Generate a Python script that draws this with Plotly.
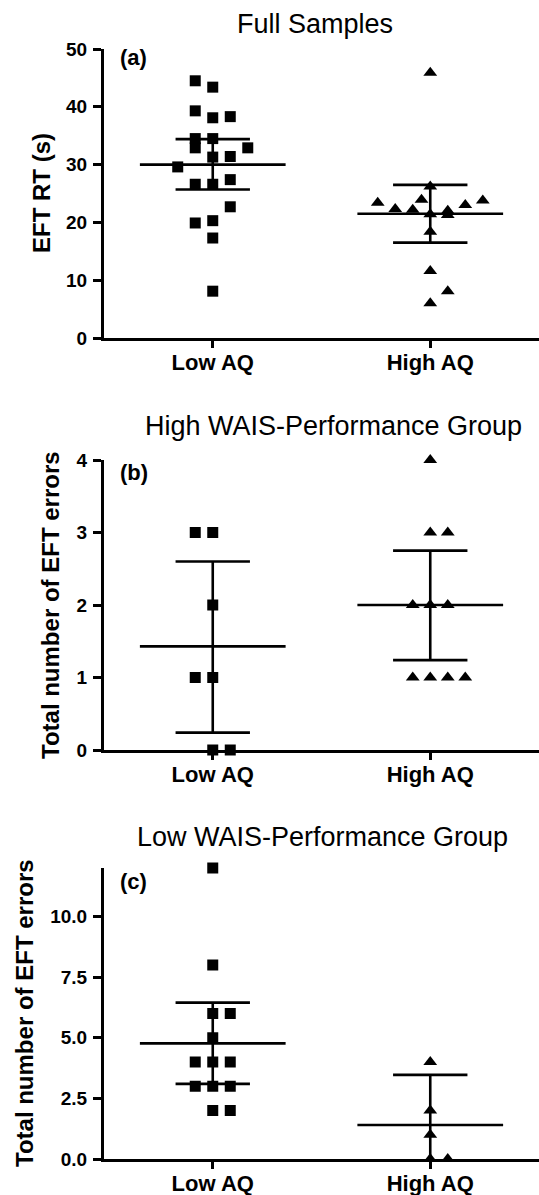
import plotly.graph_objects as go

categories = ["Low AQ", "High AQ"]

# ---------- Panel (a): Full Samples, EFT RT (s) ----------
a_low_values = [44.5, 43.4, 39.3, 38.1, 38.3, 34.5, 34.5, 32.9, 32.9, 31.3,
                31.4, 29.6, 26.6, 26.6, 27.4, 22.7, 19.9, 20.3, 17.3, 8.1]
a_low_jitter = [-1, 0, -1, 0, 1, -1, 0, -1, 2, 0, 1, -2, -1, 0, 1, 1, -1, 0, 0, 0]
a_high_values = [45.9, 23.4, 22.3, 22.2, 23.9, 26.2, 21.4, 22.0, 21.3, 23.0,
                 23.8, 18.4, 11.6, 8.1, 6.0]
a_high_jitter = [0, -3, -2, -1, -0.5, 0, 0, 1, 1, 2, 3, 0, 0, 1, 0]
a_mean = [30.0, 21.5]
a_lower = [25.7, 16.5]
a_upper = [34.4, 26.5]

# ---------- Panel (b): High WAIS-Performance Group ----------
b_low_values = [3, 3, 2, 1, 1, 0, 0]
b_low_jitter = [-1, 0, 0, -1, 0, 0, 1]
b_high_values = [4, 3, 3, 2, 2, 2, 1, 1, 1, 1]
b_high_jitter = [0, 0, 1, -1, 0, 1, -1, 0, 1, 2]
b_mean = [1.43, 2.0]
b_lower = [0.24, 1.24]
b_upper = [2.60, 2.75]

# ---------- Panel (c): Low WAIS-Performance Group ----------
c_low_values = [12, 8, 6, 6, 5, 4, 4, 4, 3, 3, 3, 2, 2]
c_low_jitter = [0, 0, 0, 1, 0, -1, 0, 1, -1, 0, 1, 0, 1]
c_high_values = [4, 2, 1, 0, 0]
c_high_jitter = [0, 0, 0, 0, 1]
c_mean = [4.77, 1.40]
c_lower = [3.10, -0.67]
c_upper = [6.45, 3.47]

panel_titles = ["Full Samples", "High WAIS-Performance Group", "Low WAIS-Performance Group"]
panel_labels = ["(a)", "(b)", "(c)"]
y_titles = ["EFT RT (s)", "Total number of EFT errors", "Total number of EFT errors"]

W, H = 539, 1195
FONT = "Arial, Liberation Sans, sans-serif"
JSTEP = 0.0805      # jitter column width (category units)
MEAN_HW = 0.335     # half-width of mean line
CAP_HW = 0.171      # half-width of error caps

panels = [
    dict(low=(a_low_values, a_low_jitter), high=(a_high_values, a_high_jitter),
         mean=a_mean, lo=a_lower, up=a_upper, yrange=[0, 50], dtick=10, fmt="d",
         px=(49, 338)),
    dict(low=(b_low_values, b_low_jitter), high=(b_high_values, b_high_jitter),
         mean=b_mean, lo=b_lower, up=b_upper, yrange=[0, 4], dtick=1, fmt="d",
         px=(460, 750)),
    dict(low=(c_low_values, c_low_jitter), high=(c_high_values, c_high_jitter),
         mean=c_mean, lo=c_lower, up=c_upper, yrange=[0, 12], dtick=2.5, fmt=".1f",
         px=(868, 1159)),
]

fig = go.Figure()
layout = dict(width=W, height=H, margin=dict(l=0, r=0, t=0, b=0, pad=0, autoexpand=False),
              paper_bgcolor="white", plot_bgcolor="white", showlegend=False)
annotations = []

x_left_px = 104
for i, p in enumerate(panels):
    n = i + 1
    xa = "x" if n == 1 else f"x{n}"
    ya = "y" if n == 1 else f"y{n}"
    # points
    for ci, (vals, jit), sym in [(0, p["low"], "square"), (1, p["high"], "triangle-up")]:
        fig.add_trace(go.Scatter(
            x=[ci + j * JSTEP for j in jit], y=vals, mode="markers",
            marker=dict(symbol=sym, size=11 if sym == "square" else 12, color="black",
                        line=dict(width=0)),
            xaxis=xa, yaxis=ya, cliponaxis=False, hoverinfo="skip"))
    # mean and error bars
    lx, ly = [], []
    for ci in range(2):
        m, lo, up = p["mean"][ci], p["lo"][ci], p["up"][ci]
        lx += [ci - MEAN_HW, ci + MEAN_HW, None]
        ly += [m, m, None]
        lx += [ci - CAP_HW, ci + CAP_HW, None]
        ly += [up, up, None]
        if lo >= p["yrange"][0]:
            lx += [ci - CAP_HW, ci + CAP_HW, None]
            ly += [lo, lo, None]
        lx += [ci, ci, None]
        ly += [max(lo, p["yrange"][0]), up, None]
    fig.add_trace(go.Scatter(x=lx, y=ly, mode="lines",
                             line=dict(color="black", width=2.6),
                             xaxis=xa, yaxis=ya, cliponaxis=True, hoverinfo="skip"))

    top_px, bot_px = p["px"]
    ydom = [1 - bot_px / H, 1 - top_px / H]
    xkey = "xaxis" if n == 1 else f"xaxis{n}"
    ykey = "yaxis" if n == 1 else f"yaxis{n}"
    layout[xkey] = dict(domain=[x_left_px / W, 1], range=[-0.5, 1.5], anchor=ya,
                        tickvals=[0, 1], ticktext=categories, automargin=False,
                        showline=True, linecolor="black", linewidth=3,
                        ticks="outside", ticklen=7, tickwidth=3, tickcolor="black",
                        showgrid=False, zeroline=False, fixedrange=True,
                        ticklabelstandoff=-4,
                        tickfont=dict(family=FONT, size=22, color="black", weight="bold"))
    layout[ykey] = dict(domain=ydom, range=p["yrange"], anchor=xa, automargin=False,
                        tick0=0, dtick=p["dtick"], tickformat=p["fmt"],
                        showline=True, linecolor="black", linewidth=3,
                        ticks="outside", ticklen=8, tickwidth=3, tickcolor="black",
                        showgrid=False, zeroline=False, fixedrange=True,
                        ticklabelstandoff=2,
                        tickfont=dict(family=FONT, size=19, color="black", weight="bold"))

# Titles, panel labels, y-axis titles (positions in pixels)
title_pos = [(315, 24), (333, 426), (322, 837)]
label_pos = [(118, 58), (118, 473), (118, 881)]
ytitle_pos = [(41, 193), (50, 605), (24, 1013)]
for i in range(3):
    tx, ty = title_pos[i]
    annotations.append(dict(text=panel_titles[i], x=tx / W, y=1 - ty / H,
                            xref="paper", yref="paper", xanchor="center", yanchor="middle",
                            showarrow=False, font=dict(family=FONT, size=27, color="black")))
    lx_, ly_ = label_pos[i]
    annotations.append(dict(text="<b>" + panel_labels[i] + "</b>", x=lx_ / W, y=1 - ly_ / H,
                            xref="paper", yref="paper", xanchor="left", yanchor="middle",
                            showarrow=False, font=dict(family=FONT, size=22, color="black")))
    yx, yy = ytitle_pos[i]
    annotations.append(dict(text="<b>" + y_titles[i] + "</b>", x=yx / W, y=1 - yy / H,
                            xref="paper", yref="paper", xanchor="center", yanchor="middle",
                            textangle=-90, showarrow=False,
                            font=dict(family=FONT, size=24, color="black")))

layout["annotations"] = annotations
fig.update_layout(**layout)
fig.write_html("out.html", config={"displayModeBar": False, "staticPlot": True},
               post_script="document.body.style.margin='0px';document.body.style.overflow='hidden';")
